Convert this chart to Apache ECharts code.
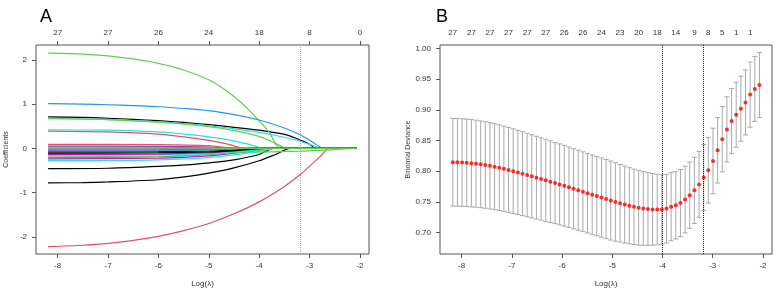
<!DOCTYPE html>
<html>
<head>
<meta charset="utf-8">
<script src="https://cdn.jsdelivr.net/npm/echarts@6/dist/echarts.min.js"></script>
<style>
  html, body { margin: 0; padding: 0; background: #fff; }
  #chart { width: 779px; height: 293px; }
</style>
</head>
<body>
<div id="chart"></div>
<script>
// ---- panel A: coefficient paths, one [logLambda, coef] list per variable ----
const coef01 = [[-8.19,0.71],[-7.5,0.70],[-7,0.68],[-6.5,0.655],[-6,0.625],[-5.5,0.585],[-5,0.535],[-4.5,0.475],[-4,0.41],[-3.44,0.30],[-3.18,0.185],[-3.0,0.09],[-2.88,0],[-2.07,0]];
const coef02 = [[-8.19,-2.22],[-7.5,-2.19],[-7,-2.15],[-6.5,-2.08],[-6,-1.99],[-5.5,-1.86],[-5,-1.70],[-4.5,-1.48],[-4,-1.21],[-3.5,-0.86],[-3.16,-0.57],[-2.9,-0.30],[-2.75,-0.14],[-2.62,0],[-2.07,0]];
const coef03 = [[-8.19,2.15],[-7.5,2.13],[-7,2.09],[-6.5,2.02],[-6,1.92],[-5.5,1.77],[-5,1.55],[-4.75,1.38],[-4.5,1.17],[-4.25,0.92],[-4,0.62],[-3.8,0.36],[-3.58,0],[-2.07,0]];
const coef04 = [[-8.19,1.01],[-7.5,1.0],[-7,0.985],[-6.5,0.965],[-6,0.94],[-5.5,0.90],[-5,0.85],[-4.5,0.76],[-4,0.64],[-3.5,0.46],[-3.18,0.30],[-2.95,0.15],[-2.72,0],[-2.07,0]];
const coef05 = [[-8.19,0.67],[-7,0.65],[-6,0.60],[-5,0.51],[-4.5,0.44],[-4,0.36],[-3.5,0.25],[-3.18,0.16],[-2.95,0.07],[-2.76,0],[-2.07,0]];
const coef06 = [[-8.19,-0.24],[-6,-0.22],[-5,-0.17],[-4.5,-0.11],[-4,-0.04],[-3.8,0],[-2.07,0]];
const coef07 = [[-8.19,-0.46],[-7,-0.45],[-6,-0.41],[-5.37,-0.37],[-5,-0.33],[-4.5,-0.26],[-4,-0.14],[-3.72,0],[-2.07,0]];
const coef08 = [[-8.19,0.39],[-7,0.37],[-6,0.32],[-5.5,0.26],[-5,0.18],[-4.6,0.09],[-4.3,0],[-2.07,0]];
const coef09 = [[-8.19,0.68],[-7,0.65],[-6,0.59],[-5,0.49],[-4.5,0.40],[-4,0.27],[-3.7,0.13],[-3.45,0],[-2.07,0]];
const coef10 = [[-8.19,-0.21],[-6,-0.19],[-5,-0.14],[-4.5,-0.08],[-4.1,0],[-2.07,0]];
const coef11 = [[-8.19,0.42],[-7,0.41],[-6,0.37],[-5.37,0.31],[-5,0.26],[-4.5,0.17],[-4.2,0.09],[-3.9,0],[-2.07,0]];
const coef12 = [[-8.19,0.05],[-6,0.045],[-5,0.03],[-4.4,0],[-2.07,0]];
const coef13 = [[-8.19,-0.78],[-7.5,-0.775],[-7,-0.76],[-6,-0.71],[-5.37,-0.63],[-5,-0.56],[-4.5,-0.44],[-4,-0.28],[-3.7,-0.15],[-3.38,0],[-2.07,0]];
const coef14 = [[-8.19,0.09],[-6,0.085],[-5,0.06],[-4.5,0],[-2.07,0]];
const coef15 = [[-8.19,-0.12],[-6,-0.11],[-5,-0.10],[-4,-0.085],[-3.18,-0.065],[-2.6,-0.035],[-2.3,-0.015],[-2.07,0]];
const coef16 = [[-8.19,0.03],[-6,0.025],[-5,0.012],[-4.8,0],[-2.07,0]];
const coef17 = [[-8.19,-0.28],[-7,-0.275],[-6,-0.26],[-5,-0.21],[-4.5,-0.15],[-4,-0.07],[-3.65,0],[-2.07,0]];
const coef18 = [[-8.19,-0.04],[-6,-0.035],[-5,-0.02],[-4.6,0],[-2.07,0]];
const coef19 = [[-8.19,-0.08],[-6,-0.075],[-5,-0.06],[-4.5,-0.035],[-4.1,0],[-2.07,0]];
const coef20 = [[-8.19,-0.01],[-6,-0.008],[-5,-0.004],[-4.9,0],[-2.07,0]];
const coef21 = [[-8.19,-0.19],[-6,-0.18],[-5,-0.14],[-4.5,-0.10],[-4,-0.04],[-3.75,0],[-2.07,0]];
const coef22 = [[-8.19,-0.06],[-6,-0.055],[-5,-0.04],[-4.5,-0.02],[-4.2,0],[-2.07,0]];
const coef23 = [[-8.19,-0.16],[-6,-0.15],[-5,-0.12],[-4.5,-0.08],[-4,-0.03],[-3.8,0],[-2.07,0]];
const coef24 = [[-8.19,-0.14],[-6,-0.13],[-5,-0.10],[-4.5,-0.06],[-4.05,0],[-2.07,0]];
const coef25 = [[-8.19,-0.11],[-6,-0.10],[-5,-0.08],[-4.5,-0.05],[-4,-0.01],[-3.9,0],[-2.07,0]];
const coef26 = [[-8.19,-0.02],[-6,-0.02],[-5,-0.01],[-4.7,0],[-2.07,0]];
const coef27 = [[-8.19,0.01],[-5,0.005],[-4.9,0],[-2.07,0]];

const coefPaths = [coef01, coef02, coef03, coef04, coef05, coef06, coef07, coef08, coef09,
  coef10, coef11, coef12, coef13, coef14, coef15, coef16, coef17, coef18, coef19, coef20,
  coef21, coef22, coef23, coef24, coef25, coef26, coef27];

const xTicks = [-8, -7, -6, -5, -4, -3, -2];
const coefTicks = [-2, -1, 0, 1, 2];
const topCountsA = ['27', '27', '26', '24', '18', '8', '0'];

// ---- panel B: cross-validation curve ----
const logLambda = [
  -8.175, -8.083, -7.990, -7.898, -7.805, -7.713, -7.620, -7.528, -7.435, -7.343,
  -7.250, -7.158, -7.065, -6.973, -6.880, -6.788, -6.695, -6.603, -6.510, -6.418,
  -6.325, -6.233, -6.140, -6.048, -5.955, -5.863, -5.770, -5.678, -5.585, -5.493,
  -5.400, -5.308, -5.215, -5.123, -5.030, -4.938, -4.845, -4.753, -4.660, -4.568,
  -4.475, -4.383, -4.290, -4.198, -4.105, -4.013, -3.920, -3.828, -3.735, -3.643,
  -3.550, -3.458, -3.365, -3.273, -3.180, -3.088, -2.995, -2.903, -2.810, -2.718,
  -2.625, -2.533, -2.440, -2.348, -2.255, -2.163, -2.070
];
const cvMean = [
  0.8145, 0.8143, 0.8140, 0.8135, 0.8129, 0.8121, 0.8111, 0.8100, 0.8087, 0.8073,
  0.8057, 0.8039, 0.8020, 0.8000, 0.7979, 0.7958, 0.7937, 0.7916, 0.7894, 0.7872,
  0.7850, 0.7828, 0.7806, 0.7784, 0.7761, 0.7737, 0.7713, 0.7689, 0.7665, 0.7641,
  0.7617, 0.7593, 0.7569, 0.7545, 0.7521, 0.7498, 0.7476, 0.7455, 0.7436, 0.7419,
  0.7404, 0.7392, 0.7383, 0.7377, 0.7375, 0.7375, 0.7390, 0.7420, 0.7445, 0.7480,
  0.7537, 0.7607, 0.7687, 0.7784, 0.7897, 0.8016, 0.8166, 0.8339, 0.8520, 0.8680,
  0.8816, 0.8920, 0.9016, 0.9120, 0.9247, 0.9340, 0.9403
];
const cvSd = [
  0.0715, 0.0714, 0.0713, 0.0712, 0.0711, 0.0709, 0.0707, 0.0705, 0.0703, 0.0700,
  0.0697, 0.0694, 0.0691, 0.0689, 0.0686, 0.0683, 0.0680, 0.0677, 0.0674, 0.0671,
  0.0668, 0.0665, 0.0662, 0.0660, 0.0658, 0.0656, 0.0654, 0.0652, 0.0650, 0.0648,
  0.0647, 0.0646, 0.0645, 0.0644, 0.0643, 0.0638, 0.0632, 0.0626, 0.0620, 0.0614,
  0.0608, 0.0600, 0.0592, 0.0584, 0.0575, 0.0566, 0.0560, 0.0555, 0.0550, 0.0546,
  0.0543, 0.0540, 0.0538, 0.0537, 0.0536, 0.0535, 0.0534, 0.0533, 0.0532, 0.0531,
  0.0530, 0.0530, 0.0530, 0.0530, 0.0530, 0.0530, 0.0530
];
const devTicks = [0.70, 0.75, 0.80, 0.85, 0.90, 0.95, 1.00];
const topPosB = [-8.175, -7.805, -7.435, -7.065, -6.695, -6.325, -5.955, -5.585, -5.215,
  -4.845, -4.475, -4.105, -3.735, -3.365, -3.088, -2.810, -2.533, -2.255];
const topCountsB = ['27', '27', '27', '27', '27', '27', '26', '26', '24',
  '23', '20', '18', '14', '9', '8', '5', '1', '1'];

const lambdaMin = -4.013;
const lambda1se = -3.18;

const palette = ['#000000', '#DF536B', '#61D04F', '#2297E6', '#28E2E5', '#CD0BBC'];
const font = 'Liberation Sans, Arial, Helvetica, sans-serif';
const textCol = '#333';
const boxCol = '#555';

const lookup = (positions, labels) => (v) => {
    const i = positions.findIndex(p => Math.abs(p - v) < 1e-6);
    return i < 0 ? '' : labels[i];
};

const xAxisBase = (grid, pos) => ({
    gridIndex: grid,
    type: 'value',
    position: pos,
    min: -8.43,
    max: -1.82,
    splitLine: { show: false },
    axisLine: { show: false, onZero: false },
    axisTick: { show: true, inside: false, length: 4, customValues: xTicks, lineStyle: { color: boxCol } },
    axisLabel: { customValues: xTicks, fontSize: 8, fontFamily: font, color: textCol, margin: 8 }
});

const chart = echarts.init(document.getElementById('chart'), null, { renderer: 'canvas' });

const bandData = logLambda.map((x, i) => [x, cvMean[i] - cvSd[i], cvMean[i] + cvSd[i]]);

const option = {
    animation: false,
    backgroundColor: '#fff',
    title: [
        { text: 'A', left: 35, top: 3, textStyle: { fontSize: 18, fontWeight: 'normal', color: '#000', fontFamily: font } },
        { text: 'B', left: 431, top: 3, textStyle: { fontSize: 18, fontWeight: 'normal', color: '#000', fontFamily: font } }
    ],
    grid: [
        { left: 36, top: 45, width: 333, height: 212, show: true, borderColor: boxCol, borderWidth: 1, backgroundColor: 'transparent' },
        { left: 440, top: 45, width: 332, height: 212, show: true, borderColor: boxCol, borderWidth: 1, backgroundColor: 'transparent' }
    ],
    xAxis: [
        Object.assign(xAxisBase(0, 'bottom'), {
            name: 'Log(λ)', nameLocation: 'middle', nameGap: 26,
            nameTextStyle: { fontSize: 8, fontFamily: font, color: textCol }
        }),
        (() => {
            const a = xAxisBase(0, 'top');
            a.axisLabel.formatter = lookup(xTicks, topCountsA);
            return a;
        })(),
        Object.assign(xAxisBase(1, 'bottom'), {
            name: 'Log(λ)', nameLocation: 'middle', nameGap: 26,
            nameTextStyle: { fontSize: 8, fontFamily: font, color: textCol }
        }),
        (() => {
            const a = xAxisBase(1, 'top');
            a.axisTick = { show: false };
            a.axisLabel.customValues = topPosB;
            a.axisLabel.formatter = lookup(topPosB, topCountsB);
            return a;
        })()
    ],
    yAxis: [
        {
            gridIndex: 0, type: 'value', min: -2.388, max: 2.335,
            splitLine: { show: false },
            axisLine: { show: false, onZero: false },
            axisTick: { show: true, inside: false, length: 4, customValues: coefTicks, lineStyle: { color: boxCol } },
            axisLabel: { customValues: coefTicks, fontSize: 8, fontFamily: font, color: textCol, margin: 9 },
            name: 'Coefficients', nameLocation: 'middle', nameGap: 26,
            nameTextStyle: { fontSize: 7, fontFamily: font, color: textCol }
        },
        {
            gridIndex: 1, type: 'value', min: 0.665, max: 1.0055,
            splitLine: { show: false },
            axisLine: { show: false, onZero: false },
            axisTick: { show: true, inside: false, length: 4, customValues: devTicks, lineStyle: { color: boxCol } },
            axisLabel: { customValues: devTicks, fontSize: 8, fontFamily: font, color: textCol, margin: 9,
                formatter: v => v.toFixed(2) },
            name: 'Binomial Deviance', nameLocation: 'middle', nameGap: 27,
            nameTextStyle: { fontSize: 7, fontFamily: font, color: textCol }
        }
    ],
    series: [
        ...coefPaths.map((p, i) => ({
            type: 'line',
            xAxisIndex: 0,
            yAxisIndex: 0,
            data: p,
            symbol: 'none',
            silent: true,
            clip: true,
            smooth: 0.25,
            lineStyle: { width: 1.2, color: palette[i % 6] },
            itemStyle: { color: palette[i % 6] },
            markLine: i === 0 ? {
                symbol: 'none', silent: true, label: { show: false },
                lineStyle: { type: 'dotted', color: '#aaa', width: 1 },
                data: [{ xAxis: lambda1se }]
            } : undefined
        })),
        {
            type: 'custom',
            xAxisIndex: 2,
            yAxisIndex: 1,
            data: bandData,
            silent: true,
            renderItem: (params, api) => {
                const x = api.value(0);
                const lo = api.coord([x, api.value(1)]);
                const hi = api.coord([x, api.value(2)]);
                const w = 2.5;
                const style = { stroke: '#a9a9a9', lineWidth: 1 };
                return {
                    type: 'group',
                    children: [
                        { type: 'line', shape: { x1: lo[0], y1: lo[1], x2: hi[0], y2: hi[1] }, style },
                        { type: 'line', shape: { x1: hi[0] - w, y1: hi[1], x2: hi[0] + w, y2: hi[1] }, style },
                        { type: 'line', shape: { x1: lo[0] - w, y1: lo[1], x2: lo[0] + w, y2: lo[1] }, style }
                    ]
                };
            }
        },
        {
            type: 'scatter',
            xAxisIndex: 2,
            yAxisIndex: 1,
            data: logLambda.map((x, i) => [x, cvMean[i]]),
            symbol: 'circle',
            symbolSize: 4,
            silent: true,
            itemStyle: { color: '#ff0000' },
            markLine: {
                symbol: 'none', silent: true, label: { show: false },
                lineStyle: { type: 'dotted', color: '#222', width: 1 },
                data: [{ xAxis: lambdaMin }, { xAxis: lambda1se }]
            }
        }
    ]
};

chart.setOption(option);
</script>
</body>
</html>
